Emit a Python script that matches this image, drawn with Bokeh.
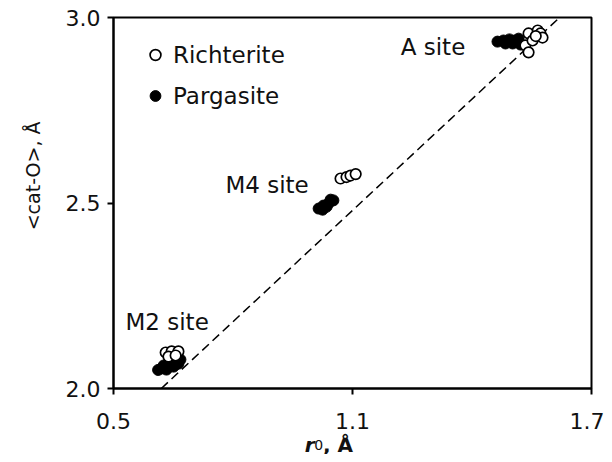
from bokeh.plotting import figure
from bokeh.models import (Range1d, FixedTicker, NumeralTickFormatter, Label,
                          Legend, LegendItem, ColumnDataSource, Title)
from bokeh.layouts import column
from bokeh.core.properties import value
from bokeh.embed import file_html
from bokeh.resources import INLINE

# ---- data ----
richterite_x = [0.631, 0.646, 0.663, 0.638, 0.656,
                1.070, 1.085, 1.095, 1.108,
                1.534, 1.542, 1.542, 1.552, 1.565, 1.572, 1.577, 1.560]
richterite_y = [2.097, 2.100, 2.100, 2.086, 2.089,
                2.566, 2.570, 2.574, 2.578,
                2.925, 2.906, 2.957, 2.938, 2.965, 2.957, 2.946, 2.950]

pargasite_x = [0.621, 0.633, 0.636, 0.651, 0.663, 0.668, 0.626, 0.643, 0.656, 0.612,
               1.015, 1.025, 1.027, 1.040, 1.045, 1.052, 1.035,
               1.464, 1.479, 1.484, 1.494, 1.502, 1.507, 1.517, 1.522]
pargasite_y = [2.054, 2.051, 2.057, 2.059, 2.067, 2.078, 2.062, 2.067, 2.075, 2.050,
               2.485, 2.482, 2.493, 2.499, 2.509, 2.507, 2.490,
               2.935, 2.938, 2.930, 2.941, 2.930, 2.938, 2.943, 2.927]

ref_line_x = [0.62, 1.62]
ref_line_y = [2.00, 3.00]

x_ticks = [0.5, 1.1, 1.7]
y_ticks = [2.0, 2.5, 3.0]

site_names = ["M2 site", "M4 site", "A site"]
site_x = [0.530, 0.781, 1.221]
site_y = [2.178, 2.548, 2.920]

FONT = "DejaVu Sans"
TXT = "#111111"
W = 604

p = figure(width=W, height=437, output_backend="svg", toolbar_location=None,
           x_range=Range1d(0.5, 1.7), y_range=Range1d(2.0, 3.0),
           min_border_left=113, min_border_right=13, min_border_top=17,
           min_border_bottom=49)
p.xgrid.visible = False
p.ygrid.visible = False
p.outline_line_color = "black"
p.outline_line_width = 2
p.background_fill_color = "white"
p.border_fill_color = "white"

for ax, ticks in ((p.xaxis[0], x_ticks), (p.yaxis[0], y_ticks)):
    ax.ticker = FixedTicker(ticks=ticks)
    ax.formatter = NumeralTickFormatter(format="0.0")
    ax.minor_tick_line_color = None
    ax.major_tick_in = 0
    ax.major_tick_out = 6
    ax.major_tick_line_width = 2
    ax.axis_line_width = 2
    ax.major_label_text_font = FONT
    ax.major_label_text_font_size = "22px"
    ax.major_label_text_color = TXT
p.xaxis.major_label_standoff = 18
p.yaxis.major_label_standoff = 7

p.line(ref_line_x, ref_line_y, line_color="black", line_width=1.5, line_dash="9 5")

src_p = ColumnDataSource(dict(x=pargasite_x, y=pargasite_y))
src_r = ColumnDataSource(dict(x=richterite_x, y=richterite_y))
r_fill = p.scatter("x", "y", source=src_p, marker="circle", size=11,
                   fill_color="black", line_color="black", line_width=1)
r_open = p.scatter("x", "y", source=src_r, marker="circle", size=10.5,
                   fill_color="white", line_color="black", line_width=1.7)

legend = Legend(items=[LegendItem(label="Richterite", renderers=[r_open]),
                       LegendItem(label="Pargasite", renderers=[r_fill])],
                location="top_left", margin=24, padding=0, glyph_width=36,
                glyph_height=27, label_standoff=0, spacing=14,
                label_text_font=FONT, label_text_font_size="23px",
                label_text_color=TXT,
                border_line_alpha=0, background_fill_alpha=0)
p.add_layout(legend)

for name, sx, sy in zip(site_names, site_x, site_y):
    p.add_layout(Label(x=sx, y=sy, text=name, text_font=FONT, text_font_size="23px",
                       text_color=TXT, text_baseline="alphabetic", text_align="left"))

# y-axis title
ytitle = Title(text="<cat-O>, Å", align="right", offset=104, standoff=34,
               vertical_align="top", text_font=FONT, text_font_size="19px",
               text_font_style="normal", text_color=TXT)
p.add_layout(ytitle, "left")

# x-axis title strip: r0, Å  (overlaps the bottom margin of the main plot)
p2 = figure(width=W, height=25, output_backend="svg", toolbar_location=None,
            x_range=p.x_range, y_range=Range1d(0, 1),
            x_axis_location=None, y_axis_location=None,
            min_border_left=113, min_border_right=13, min_border_top=0,
            min_border_bottom=0, margin=(-8, 0, 0, 0))
p2.xgrid.visible = False
p2.ygrid.visible = False
p2.outline_line_color = None
p2.background_fill_alpha = 0
p2.border_fill_alpha = 0
TY = 0.40
p2.text(x=[0.980], y=[TY], text=["r"], text_font=value(FONT), text_font_size="20px",
        text_font_style="bold italic", text_color=TXT, text_baseline="alphabetic")
p2.text(x=[1.004], y=[TY], text=["0"], text_font=value(FONT), text_font_size="14px",
        text_color=TXT, text_baseline="alphabetic")
p2.text(x=[1.026], y=[TY], text=[", Å"], text_font=value(FONT), text_font_size="20px",
        text_font_style="bold", text_color=TXT, text_baseline="alphabetic")

layout = column(p, p2, spacing=0)
open("out.html", "w").write(file_html(layout, INLINE))
